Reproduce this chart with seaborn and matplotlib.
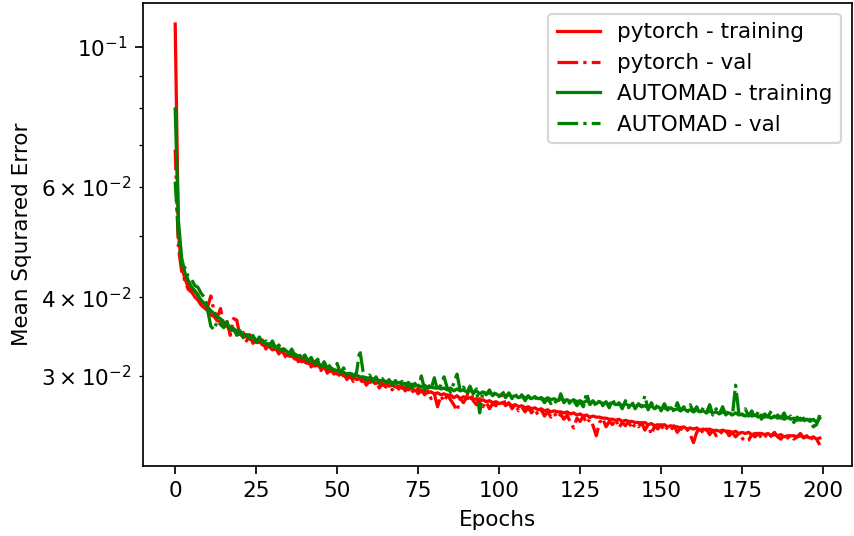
import numpy as np
import pandas as pd
import matplotlib
matplotlib.use("Agg")
import matplotlib.pyplot as plt
import seaborn as sns

epochs = list(range(200))

pytorch_train = [
    0.1088, 0.0505, 0.0448, 0.0428, 0.0416, 0.0409, 0.0401, 0.0396, 0.0389, 0.0385,
    0.0381, 0.0375, 0.0373, 0.0367, 0.0366, 0.0361, 0.0360, 0.0354, 0.0355, 0.0350,
    0.0350, 0.0346, 0.0347, 0.0343, 0.0343, 0.0339, 0.0340, 0.0336, 0.0335, 0.0334,
    0.0330, 0.0331, 0.0327, 0.0328, 0.0324, 0.0323, 0.0323, 0.0319, 0.0319, 0.0316,
    0.0317, 0.0314, 0.0314, 0.0311, 0.0312, 0.0308, 0.0309, 0.0306, 0.0305, 0.0305,
    0.0302, 0.0303, 0.0300, 0.0301, 0.0298, 0.0299, 0.0296, 0.0297, 0.0294, 0.0296,
    0.0293, 0.0294, 0.0292, 0.0293, 0.0290, 0.0292, 0.0289, 0.0290, 0.0288, 0.0289,
    0.0287, 0.0288, 0.0285, 0.0287, 0.0284, 0.0286, 0.0283, 0.0284, 0.0282, 0.0283,
    0.0281, 0.0282, 0.0280, 0.0281, 0.0279, 0.0280, 0.0277, 0.0279, 0.0276, 0.0278,
    0.0276, 0.0277, 0.0275, 0.0276, 0.0273, 0.0275, 0.0273, 0.0274, 0.0272, 0.0273,
    0.0271, 0.0272, 0.0270, 0.0271, 0.0269, 0.0270, 0.0268, 0.0269, 0.0267, 0.0268,
    0.0266, 0.0267, 0.0265, 0.0266, 0.0264, 0.0265, 0.0263, 0.0264, 0.0263, 0.0263,
    0.0262, 0.0263, 0.0261, 0.0262, 0.0260, 0.0261, 0.0259, 0.0260, 0.0258, 0.0259,
    0.0258, 0.0258, 0.0257, 0.0257, 0.0256, 0.0256, 0.0255, 0.0256, 0.0254, 0.0255,
    0.0254, 0.0254, 0.0253, 0.0253, 0.0252, 0.0253, 0.0251, 0.0252, 0.0250, 0.0251,
    0.0250, 0.0251, 0.0249, 0.0250, 0.0249, 0.0249, 0.0248, 0.0249, 0.0247, 0.0248,
    0.0247, 0.0248, 0.0246, 0.0247, 0.0246, 0.0247, 0.0245, 0.0246, 0.0245, 0.0246,
    0.0245, 0.0245, 0.0244, 0.0245, 0.0243, 0.0244, 0.0243, 0.0244, 0.0242, 0.0243,
    0.0243, 0.0243, 0.0242, 0.0243, 0.0241, 0.0242, 0.0241, 0.0242, 0.0240, 0.0241,
    0.0241, 0.0241, 0.0240, 0.0241, 0.0240, 0.0240, 0.0239, 0.0240, 0.0238, 0.0239,
]

pytorch_val = [
    0.0687, 0.0480, 0.0440, 0.0425, 0.0412, 0.0408, 0.0410, 0.0404, 0.0392, 0.0398,
    0.0386, 0.0402, 0.0380, 0.0372, 0.0384, 0.0360, 0.0366, 0.0348, 0.0370, 0.0368,
    0.0347, 0.0352, 0.0341, 0.0349, 0.0338, 0.0344, 0.0336, 0.0342, 0.0331, 0.0337,
    0.0329, 0.0334, 0.0325, 0.0331, 0.0322, 0.0327, 0.0318, 0.0325, 0.0316, 0.0321,
    0.0313, 0.0319, 0.0310, 0.0316, 0.0318, 0.0306, 0.0311, 0.0303, 0.0309, 0.0302,
    0.0305, 0.0299, 0.0303, 0.0296, 0.0301, 0.0294, 0.0299, 0.0292, 0.0297, 0.0290,
    0.0295, 0.0289, 0.0294, 0.0287, 0.0292, 0.0288, 0.0293, 0.0285, 0.0290, 0.0286,
    0.0289, 0.0284, 0.0288, 0.0282, 0.0287, 0.0281, 0.0285, 0.0280, 0.0284, 0.0276,
    0.0281, 0.0268, 0.0279, 0.0273, 0.0280, 0.0275, 0.0270, 0.0264, 0.0276, 0.0272,
    0.0278, 0.0289, 0.0274, 0.0270, 0.0276, 0.0268, 0.0273, 0.0266, 0.0271, 0.0269,
    0.0275, 0.0280, 0.0269, 0.0272, 0.0266, 0.0270, 0.0264, 0.0268, 0.0263, 0.0267,
    0.0262, 0.0266, 0.0260, 0.0265, 0.0259, 0.0263, 0.0258, 0.0262, 0.0257, 0.0261,
    0.0256, 0.0260, 0.0253, 0.0248, 0.0257, 0.0254, 0.0259, 0.0252, 0.0256, 0.0250,
    0.0241, 0.0253, 0.0257, 0.0249, 0.0254, 0.0251, 0.0256, 0.0248, 0.0253, 0.0250,
    0.0254, 0.0247, 0.0252, 0.0249, 0.0253, 0.0246, 0.0251, 0.0242, 0.0250, 0.0247,
    0.0251, 0.0245, 0.0249, 0.0246, 0.0250, 0.0244, 0.0248, 0.0245, 0.0247, 0.0242,
    0.0235, 0.0244, 0.0248, 0.0243, 0.0247, 0.0242, 0.0246, 0.0241, 0.0245, 0.0243,
    0.0246, 0.0241, 0.0244, 0.0240, 0.0243, 0.0239, 0.0236, 0.0237, 0.0242, 0.0240,
    0.0243, 0.0239, 0.0242, 0.0238, 0.0241, 0.0244, 0.0240, 0.0238, 0.0242, 0.0239,
    0.0241, 0.0238, 0.0240, 0.0243, 0.0239, 0.0241, 0.0237, 0.0240, 0.0238, 0.0233,
]

automad_train = [
    0.0797, 0.0530, 0.0462, 0.0438, 0.0426, 0.0416, 0.0410, 0.0403, 0.0396, 0.0391,
    0.0386, 0.0381, 0.0377, 0.0372, 0.0370, 0.0365, 0.0363, 0.0358, 0.0357, 0.0353,
    0.0352, 0.0349, 0.0349, 0.0345, 0.0346, 0.0342, 0.0343, 0.0339, 0.0338, 0.0337,
    0.0335, 0.0333, 0.0332, 0.0329, 0.0330, 0.0326, 0.0326, 0.0322, 0.0323, 0.0320,
    0.0320, 0.0317, 0.0318, 0.0314, 0.0315, 0.0311, 0.0312, 0.0309, 0.0309, 0.0307,
    0.0306, 0.0305, 0.0304, 0.0302, 0.0303, 0.0300, 0.0301, 0.0299, 0.0299, 0.0298,
    0.0297, 0.0297, 0.0296, 0.0295, 0.0295, 0.0294, 0.0294, 0.0293, 0.0292, 0.0293,
    0.0291, 0.0292, 0.0290, 0.0291, 0.0289, 0.0290, 0.0288, 0.0290, 0.0287, 0.0288,
    0.0287, 0.0288, 0.0286, 0.0287, 0.0285, 0.0287, 0.0284, 0.0286, 0.0284, 0.0285,
    0.0283, 0.0285, 0.0282, 0.0284, 0.0281, 0.0283, 0.0281, 0.0282, 0.0280, 0.0281,
    0.0279, 0.0281, 0.0279, 0.0280, 0.0278, 0.0279, 0.0277, 0.0279, 0.0277, 0.0278,
    0.0276, 0.0278, 0.0276, 0.0277, 0.0275, 0.0277, 0.0275, 0.0276, 0.0274, 0.0276,
    0.0274, 0.0275, 0.0273, 0.0275, 0.0273, 0.0274, 0.0272, 0.0274, 0.0272, 0.0273,
    0.0271, 0.0273, 0.0271, 0.0272, 0.0270, 0.0272, 0.0270, 0.0271, 0.0269, 0.0271,
    0.0269, 0.0270, 0.0268, 0.0270, 0.0268, 0.0269, 0.0267, 0.0269, 0.0266, 0.0268,
    0.0266, 0.0267, 0.0265, 0.0267, 0.0265, 0.0266, 0.0264, 0.0266, 0.0264, 0.0265,
    0.0263, 0.0265, 0.0263, 0.0264, 0.0262, 0.0264, 0.0262, 0.0263, 0.0261, 0.0263,
    0.0261, 0.0262, 0.0260, 0.0262, 0.0260, 0.0261, 0.0259, 0.0261, 0.0259, 0.0260,
    0.0258, 0.0260, 0.0258, 0.0259, 0.0257, 0.0259, 0.0257, 0.0258, 0.0256, 0.0258,
    0.0256, 0.0257, 0.0255, 0.0257, 0.0255, 0.0256, 0.0254, 0.0256, 0.0253, 0.0257,
]

automad_val = [
    0.0611, 0.0500, 0.0450, 0.0446, 0.0432, 0.0428, 0.0418, 0.0415, 0.0406, 0.0400,
    0.0382, 0.0360, 0.0355, 0.0367, 0.0362, 0.0358, 0.0366, 0.0352, 0.0359, 0.0348,
    0.0354, 0.0345, 0.0351, 0.0342, 0.0348, 0.0340, 0.0346, 0.0338, 0.0341, 0.0335,
    0.0341, 0.0332, 0.0336, 0.0329, 0.0333, 0.0325, 0.0331, 0.0322, 0.0328, 0.0319,
    0.0324, 0.0317, 0.0321, 0.0313, 0.0319, 0.0310, 0.0316, 0.0308, 0.0313, 0.0306,
    0.0314, 0.0303, 0.0309, 0.0301, 0.0306, 0.0299, 0.0304, 0.0330, 0.0305, 0.0296,
    0.0301, 0.0294, 0.0299, 0.0292, 0.0297, 0.0291, 0.0296, 0.0290, 0.0295, 0.0289,
    0.0294, 0.0288, 0.0293, 0.0287, 0.0292, 0.0286, 0.0300, 0.0285, 0.0291, 0.0286,
    0.0298, 0.0284, 0.0290, 0.0299, 0.0287, 0.0283, 0.0292, 0.0302, 0.0284, 0.0288,
    0.0282, 0.0289, 0.0281, 0.0286, 0.0262, 0.0284, 0.0280, 0.0285, 0.0279, 0.0283,
    0.0278, 0.0284, 0.0277, 0.0282, 0.0276, 0.0281, 0.0275, 0.0280, 0.0274, 0.0279,
    0.0275, 0.0278, 0.0273, 0.0277, 0.0272, 0.0276, 0.0271, 0.0275, 0.0270, 0.0281,
    0.0272, 0.0276, 0.0270, 0.0274, 0.0269, 0.0273, 0.0268, 0.0282, 0.0270, 0.0274,
    0.0268, 0.0275, 0.0269, 0.0273, 0.0267, 0.0276, 0.0268, 0.0272, 0.0266, 0.0274,
    0.0267, 0.0273, 0.0266, 0.0271, 0.0268, 0.0279, 0.0265, 0.0272, 0.0266, 0.0270,
    0.0264, 0.0271, 0.0265, 0.0269, 0.0263, 0.0272, 0.0264, 0.0268, 0.0262, 0.0270,
    0.0263, 0.0268, 0.0261, 0.0267, 0.0262, 0.0270, 0.0260, 0.0266, 0.0261, 0.0268,
    0.0260, 0.0265, 0.0259, 0.0290, 0.0262, 0.0258, 0.0266, 0.0259, 0.0264, 0.0257,
    0.0263, 0.0256, 0.0261, 0.0258, 0.0264, 0.0255, 0.0260, 0.0257, 0.0262, 0.0254,
    0.0259, 0.0253, 0.0258, 0.0255, 0.0257, 0.0252, 0.0256, 0.0249, 0.0251, 0.0260,
]

series = [
    ("pytorch - training", pytorch_train, "red", "-"),
    ("pytorch - val", pytorch_val, "red", "-."),
    ("AUTOMAD - training", automad_train, "green", "-"),
    ("AUTOMAD - val", automad_val, "green", "-."),
]

DPI = 155
fig, ax = plt.subplots(figsize=(854 / DPI, 536 / DPI), dpi=DPI)
fig.subplots_adjust(left=0.1674, right=0.9977, top=0.9944, bottom=0.1306)

for label, vals, color, ls in series:
    df = pd.DataFrame({"epoch": epochs, "mse": vals})
    sns.lineplot(data=df, x="epoch", y="mse", color=color, linestyle=ls,
                 linewidth=1.5, label=label, ax=ax)

ax.set_yscale("log")
ax.set_xlabel("Epochs")
ax.set_ylabel("Mean Squrared Error")
ax.legend(loc="upper right")

fig.savefig("out.png", dpi=DPI)
